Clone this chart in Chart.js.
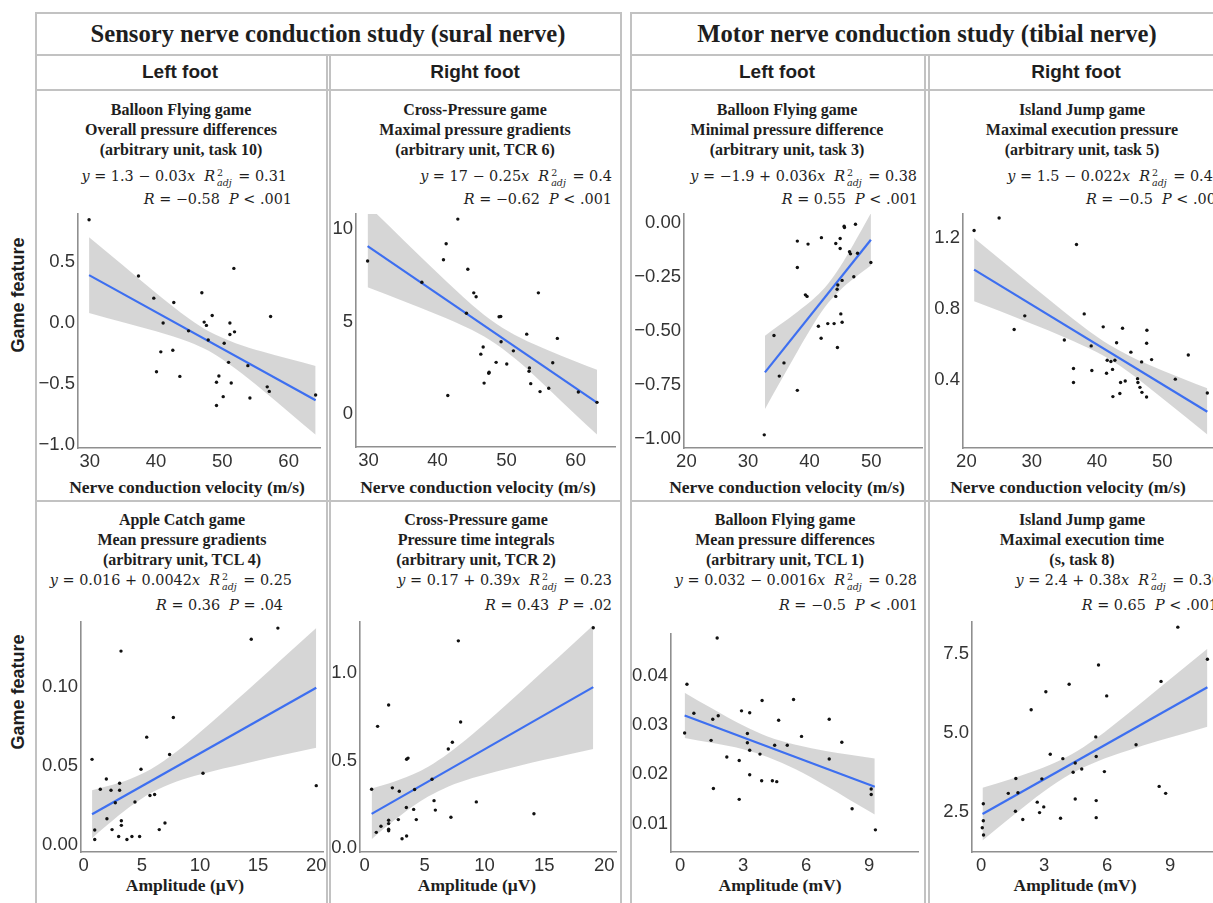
<!DOCTYPE html>
<html lang="en">
<head>
<meta charset="UTF-8">
<title>Game features and nerve conduction</title>
<script src="https://cdn.jsdelivr.net/npm/chart.js@4.4.0/dist/chart.umd.min.js"></script>
<style>
    body { margin: 0; background: #fff; overflow: hidden; }
    #figure { position: relative; width: 1240px; height: 903px; }
    .rule { position: absolute; background: #c2c2c2; }
    .txt { position: absolute; white-space: nowrap; color: #1e1e1e; }
    .sect { font: bold 24.6px "Liberation Serif", serif; transform: translate(-50%, -50%); }
    .foot { font: bold 19px "Liberation Sans Narrow", "Liberation Sans", sans-serif; transform: translate(-50%, -50%); }
    .side { font: bold 18px "Liberation Sans Narrow", "Liberation Sans", sans-serif; transform: translate(-50%, -50%) rotate(-90deg); }
    .ttl { font: bold 16px "Liberation Serif", serif; transform: translate(-50%, -50%); }
    .eq { font: 14.4px "DejaVu Serif", serif; transform: translate(-100%, -50%); }
    .axt { font: bold 17.5px "Liberation Serif", serif; transform: translate(-50%, -50%); }
    .adj { display: inline-flex; flex-direction: column; vertical-align: middle; font-size: 9.5px; line-height: 9.5px; margin: 0 2px; }
    canvas { position: absolute; }
</style>
</head>
<body>
<div id="figure"></div>

<script>
    // ---- sural nerve, left foot: velocity vs Balloon Flying overall pressure differences
    const p1X = [29.9, 37.35, 39.66, 42.68, 41.07, 40.72, 42.53, 40.07, 43.59, 44.9, 46.91, 47.26, 47.6, 48.47, 47.87, 51.74, 51.14, 51.84, 51.14, 50.28, 50.94, 49.48, 49.12, 51.34, 50.13, 49.12, 53.85, 54.16, 57.28, 56.77, 57.08, 64.07];
    const p1Y = [0.847, 0.386, 0.204, 0.169, 0.0, -0.236, -0.223, -0.399, -0.437, -0.064, 0.249, 0.008, -0.019, 0.062, -0.139, 0.448, 0.0, -0.072, -0.094, -0.166, -0.322, -0.434, -0.485, -0.491, -0.603, -0.676, -0.349, -0.614, 0.054, -0.523, -0.56, -0.59];
    const p1Fit = [1.29, -0.030];
    const p1BandX = [29.9, 35, 40, 45, 48, 52, 56, 60, 64.07];
    const p1BandLo = [0.083, 0.007, -0.067, -0.155, -0.23, -0.375, -0.547, -0.728, -0.915];
    const p1BandHi = [0.703, 0.473, 0.247, 0.035, -0.07, -0.165, -0.233, -0.292, -0.351];
    const p1XTicks = [30, 40, 50, 60];
    const p1YTicks = [-1, -0.5, 0, 0.5];
    const p1YLabels = ['−1.0', '−0.5', '0.0', '0.5'];

    // ---- sural nerve, right foot: velocity vs Cross-Pressure maximal gradients
    const p2X = [29.86, 42.93, 41.24, 40.85, 37.72, 44.38, 45.24, 45.58, 44.18, 49.15, 48.91, 54.6, 49.2, 46.6, 46.26, 50.98, 52.91, 57.35, 48.48, 50.02, 47.41, 47.46, 53.3, 53.25, 56.68, 46.74, 53.49, 54.84, 56.1, 60.39, 41.48, 63.09];
    const p2Y = [8.27, 10.53, 9.2, 8.34, 7.12, 7.82, 6.55, 6.34, 5.45, 5.27, 5.26, 6.55, 3.91, 3.63, 3.24, 3.42, 4.32, 4.09, 2.8, 2.71, 2.21, 2.27, 2.5, 2.32, 2.78, 1.68, 1.65, 1.22, 1.4, 1.2, 1.01, 0.64];
    const p2Fit = [16.66, -0.2542];
    const p2BandX = [29.86, 35, 40, 45, 48.5, 52, 56, 60, 63.09];
    const p2BandLo = [6.85, 6.11, 5.37, 4.54, 3.78, 2.76, 1.39, -0.03, -1.1];
    const p2BandHi = [11.29, 9.42, 7.62, 5.9, 4.88, 4.12, 3.45, 2.85, 2.4];
    const p2XTicks = [30, 40, 50, 60];
    const p2YTicks = [0, 5, 10];
    const p2YLabels = ['0', '5', '10'];

    // ---- tibial nerve, left foot: velocity vs Balloon Flying minimal difference
    const p3X = [32.64, 34.22, 35.84, 35.08, 38.01, 38.01, 38.01, 39.75, 39.32, 39.59, 41.92, 41.43, 41.87, 42.95, 43.98, 44.25, 44.96, 44.96, 45.61, 45.66, 47.45, 46.48, 46.64, 47.78, 49.95, 47.18, 45.28, 44.58, 44.47, 44.25, 45.07, 45.28, 44.52];
    const p3Y = [-0.98, -0.52, -0.647, -0.708, -0.774, -0.083, -0.205, -0.097, -0.332, -0.339, -0.067, -0.477, -0.533, -0.465, -0.465, -0.094, -0.071, -0.117, -0.014, -0.02, -0.005, -0.132, -0.142, -0.139, -0.182, -0.248, -0.265, -0.286, -0.306, -0.339, -0.42, -0.459, -0.576];
    const p3Fit = [-1.86, 0.0357];
    const p3BandX = [32.75, 35, 38, 41, 43, 45, 47, 49.95];
    const p3BandLo = [-0.861, -0.746, -0.595, -0.451, -0.37, -0.309, -0.26, -0.196];
    const p3BandHi = [-0.521, -0.474, -0.411, -0.341, -0.28, -0.199, -0.104, 0.046];
    const p3XTicks = [20, 30, 40, 50];
    const p3YTicks = [-1, -0.75, -0.5, -0.25, 0];
    const p3YLabels = ['−1.00', '−0.75', '−0.50', '−0.25', '0.00'];

    // ---- tibial nerve, right foot: velocity vs Island Jump maximal execution pressure
    const p4X = [21.18, 25.01, 36.86, 27.31, 28.94, 38.04, 35.0, 39.11, 40.95, 43.91, 47.64, 43.0, 47.6, 45.19, 41.56, 42.13, 42.74, 42.38, 46.83, 48.36, 36.4, 39.21, 41.46, 36.4, 43.61, 44.32, 46.21, 46.26, 46.57, 46.88, 47.59, 43.5, 42.43, 51.99, 53.98, 56.89];
    const p4Y = [1.242, 1.312, 1.163, 0.685, 0.762, 0.773, 0.626, 0.593, 0.7, 0.692, 0.681, 0.611, 0.608, 0.558, 0.512, 0.505, 0.512, 0.461, 0.503, 0.516, 0.466, 0.455, 0.439, 0.387, 0.387, 0.396, 0.409, 0.387, 0.36, 0.332, 0.306, 0.325, 0.308, 0.406, 0.542, 0.328];
    const p4Fit = [1.496, -0.02238];
    const p4BandX = [21.18, 25, 30, 35, 40, 42, 45, 50, 56.89];
    const p4BandLo = [0.844, 0.79, 0.717, 0.642, 0.558, 0.516, 0.442, 0.299, 0.095];
    const p4BandHi = [1.2, 1.084, 0.933, 0.784, 0.644, 0.596, 0.536, 0.455, 0.355];
    const p4XTicks = [20, 30, 40, 50];
    const p4YTicks = [0.4, 0.8, 1.2];
    const p4YLabels = ['0.4', '0.8', '1.2'];

    // ---- sural nerve, left foot: amplitude vs Apple Catch mean gradients
    const p5X = [0.72, 0.95, 0.95, 1.43, 1.95, 2.0, 2.35, 2.44, 2.72, 3.09, 3.09, 3.21, 3.24, 3.24, 3.01, 3.72, 4.15, 4.41, 4.81, 4.93, 5.42, 5.7, 6.1, 6.5, 6.99, 7.39, 7.71, 10.26, 14.41, 16.7, 20.0];
    const p5Y = [0.0542, 0.0094, 0.0033, 0.0352, 0.0417, 0.0165, 0.0346, 0.0096, 0.0267, 0.039, 0.0346, 0.1229, 0.0152, 0.0123, 0.0052, 0.0033, 0.0052, 0.0271, 0.0052, 0.0479, 0.0683, 0.0313, 0.0319, 0.0096, 0.0138, 0.0573, 0.0808, 0.0454, 0.1304, 0.1375, 0.0375];
    const p5Fit = [0.0164, 0.00416];
    const p5BandX = [0.72, 2, 4, 5.77, 8, 10, 12, 14, 16, 18, 20];
    const p5BandLo = [0.0042, 0.0123, 0.0242, 0.0329, 0.0402, 0.0446, 0.0484, 0.0518, 0.0552, 0.0584, 0.0616];
    const p5BandHi = [0.0346, 0.0371, 0.0418, 0.0479, 0.0592, 0.0714, 0.0843, 0.0974, 0.1108, 0.1242, 0.1376];
    const p5XTicks = [0, 5, 10, 15, 20];
    const p5YTicks = [0, 0.05, 0.1];
    const p5YLabels = ['0.00', '0.05', '0.10'];

    // ---- sural nerve, right foot: amplitude vs Cross-Pressure time integrals
    const p6X = [0.58, 1.08, 0.97, 1.36, 2.0, 2.0, 2.0, 2.0, 2.0, 2.31, 2.89, 2.81, 3.12, 3.5, 3.48, 3.5, 3.62, 4.17, 4.09, 4.31, 5.62, 5.79, 5.9, 6.98, 7.32, 7.2, 7.82, 8.01, 9.32, 14.13, 19.08];
    const p6Y = [0.336, 0.695, 0.09, 0.125, 0.817, 0.159, 0.14, 0.108, 0.099, 0.344, 0.325, 0.163, 0.054, 0.069, 0.232, 0.507, 0.514, 0.335, 0.221, 0.163, 0.393, 0.271, 0.217, 0.566, 0.604, 0.176, 1.183, 0.72, 0.264, 0.196, 1.258];
    const p6Fit = [0.173, 0.0391];
    const p6BandX = [0.58, 2, 4, 5.3, 7, 9, 11, 13, 15, 17, 19.08];
    const p6BandLo = [0.051, 0.133, 0.238, 0.295, 0.352, 0.4, 0.438, 0.472, 0.504, 0.535, 0.566];
    const p6BandHi = [0.341, 0.369, 0.42, 0.465, 0.542, 0.65, 0.768, 0.891, 1.016, 1.141, 1.272];
    const p6XTicks = [0, 5, 10, 15, 20];
    const p6YTicks = [0, 0.5, 1];
    const p6YLabels = ['0.0', '0.5', '1.0'];

    // ---- tibial nerve, left foot: amplitude vs Balloon Flying mean differences
    const p7X = [0.21, 0.32, 0.65, 1.47, 1.55, 1.81, 1.76, 1.58, 2.22, 2.81, 2.81, 2.92, 3.2, 3.2, 3.31, 3.31, 3.31, 3.8, 3.9, 3.88, 4.39, 4.6, 4.5, 4.69, 5.1, 5.4, 5.78, 7.1, 7.1, 7.7, 8.19, 9.1, 9.1, 9.3];
    const p7Y = [0.0284, 0.0383, 0.0324, 0.0269, 0.0312, 0.0319, 0.0477, 0.0171, 0.0235, 0.0228, 0.0149, 0.0329, 0.0283, 0.0264, 0.0325, 0.0249, 0.0199, 0.0241, 0.035, 0.0187, 0.0187, 0.0185, 0.0259, 0.031, 0.0259, 0.0352, 0.0277, 0.0312, 0.0231, 0.0265, 0.013, 0.017, 0.0159, 0.0087];
    const p7Fit = [0.0323, -0.0016];
    const p7BandX = [0.21, 1.5, 3, 4.16, 5.5, 7, 8, 9.27];
    const p7BandLo = [0.0274, 0.0264, 0.0251, 0.0235, 0.021, 0.0175, 0.015, 0.0118];
    const p7BandHi = [0.0366, 0.0334, 0.0299, 0.0277, 0.026, 0.0247, 0.024, 0.0232];
    const p7XTicks = [0, 3, 6, 9];
    const p7YTicks = [0.01, 0.02, 0.03, 0.04];
    const p7YLabels = ['0.01', '0.02', '0.03', '0.04'];

    // ---- tibial nerve, right foot: amplitude vs Island Jump maximal execution time
    const p8X = [0.1, 0.1, 0.05, 0.11, 1.29, 1.65, 1.63, 1.75, 1.98, 2.38, 2.67, 2.78, 2.89, 2.98, 3.08, 3.29, 3.78, 3.89, 4.19, 4.38, 4.48, 4.48, 4.79, 5.46, 5.48, 5.48, 5.48, 5.59, 5.87, 5.98, 7.38, 8.48, 8.79, 8.57, 9.37, 10.78];
    const p8Y = [2.76, 2.22, 2.0, 1.77, 3.09, 3.56, 2.52, 3.11, 2.26, 5.74, 2.81, 2.48, 3.55, 2.66, 6.31, 4.33, 2.3, 4.19, 6.55, 3.76, 4.05, 2.91, 3.86, 4.88, 4.26, 2.86, 2.32, 7.16, 3.78, 6.18, 4.63, 3.31, 3.09, 6.64, 8.36, 7.34];
    const p8Fit = [2.41, 0.375];
    const p8BandX = [0.06, 1.5, 3, 4.27, 5.5, 7, 8.5, 10.78];
    const p8BandLo = [1.595, 2.376, 3.154, 3.71, 4.094, 4.448, 4.762, 5.205];
    const p8BandHi = [3.265, 3.564, 3.916, 4.31, 4.846, 5.622, 6.438, 7.675];
    const p8XTicks = [0, 3, 6, 9];
    const p8YTicks = [2.5, 5, 7.5];
    const p8YLabels = ['2.5', '5.0', '7.5'];

    // panel captions: game, feature, unit line, equation, adjusted R², R, P
    const games = ['Balloon Flying game', 'Cross-Pressure game', 'Balloon Flying game', 'Island Jump game',
                   'Apple Catch game', 'Cross-Pressure game', 'Balloon Flying game', 'Island Jump game'];
    const features = ['Overall pressure differences', 'Maximal pressure gradients', 'Minimal pressure difference', 'Maximal execution pressure',
                      'Mean pressure gradients', 'Pressure time integrals', 'Mean pressure differences', 'Maximal execution time'];
    const units = ['(arbitrary unit, task 10)', '(arbitrary unit, TCR 6)', '(arbitrary unit, task 3)', '(arbitrary unit, task 5)',
                   '(arbitrary unit, TCL 4)', '(arbitrary unit, TCR 2)', '(arbitrary unit, TCL 1)', '(s, task 8)'];
    const equations = ['1.3 − 0.03', '17 − 0.25', '−1.9 + 0.036', '1.5 − 0.022', '0.016 + 0.0042', '0.17 + 0.39', '0.032 − 0.0016', '2.4 + 0.38'];
    const r2adj = ['0.31', '0.4', '0.38', '0.46', '0.25', '0.23', '0.28', '0.36'];
    const rValues = ['−0.58', '−0.62', '0.55', '−0.5', '0.36', '0.43', '−0.5', '0.65'];
    const pValues = ['< .001', '< .001', '< .001', '< .001', '= .04', '= .02', '< .001', '< .001'];
    const xTitles = ['Nerve conduction velocity (m/s)', 'Amplitude (μV)', 'Amplitude (mV)'];

    const fig = document.getElementById('figure');

    function addText(cls, html, x, y) {
        const d = document.createElement('div');
        d.className = 'txt ' + cls;
        d.innerHTML = html;
        d.style.left = x + 'px';
        d.style.top = y + 'px';
        fig.appendChild(d);
    }

    function addRule(x, y, w, h) {
        const d = document.createElement('div');
        d.className = 'rule';
        d.style.cssText = `left:${x}px;top:${y}px;width:${w}px;height:${h}px`;
        fig.appendChild(d);
    }

    // table frame
    [12, 54, 89, 500].forEach(y => { addRule(35, y, 586, 1.5); addRule(630, y, 600, 1.5); });
    addRule(35, 12, 1.5, 891);
    addRule(620, 12, 1.5, 891);
    addRule(630, 12, 1.5, 891);
    [326, 329, 924, 928].forEach(x => addRule(x, 54, 1.5, 849));

    addText('sect', 'Sensory nerve conduction study (sural nerve)', 328, 34);
    addText('sect', 'Motor nerve conduction study (tibial nerve)', 927, 34);
    [180, 475, 777, 1076].forEach((x, i) => addText('foot', i % 2 ? 'Right foot' : 'Left foot', x, 72));
    addText('side', 'Game feature', 18, 295);
    addText('side', 'Game feature', 18, 692);

    const panels = [
        { x: p1X, y: p1Y, fit: p1Fit, bx: p1BandX, lo: p1BandLo, hi: p1BandHi, xt: p1XTicks, yt: p1YTicks, yl: p1YLabels,
          box: [78, 210, 320, 448], xr: [28.23, 64.73], yr: [-1.024, 0.893], cx: 181, eqR: 287, stR: 292, axC: 187, xTitle: 0 },
        { x: p2X, y: p2Y, fit: p2Fit, bx: p2BandX, lo: p2BandLo, hi: p2BandHi, xt: p2XTicks, yt: p2YTicks, yl: p2YLabels,
          box: [356, 210, 615, 447], xr: [28.18, 65.7], yr: [-1.77, 10.8], cx: 475, eqR: 612, stR: 612, axC: 478, xTitle: 0 },
        { x: p3X, y: p3Y, fit: p3Fit, bx: p3BandX, lo: p3BandLo, hi: p3BandHi, xt: p3XTicks, yt: p3YTicks, yl: p3YLabels,
          box: [684, 210, 922, 448], xr: [19.61, 58.25], yr: [-1.041, 0.042], cx: 787, eqR: 917, stR: 918, axC: 787, xTitle: 0 },
        { x: p4X, y: p4Y, fit: p4Fit, bx: p4BandX, lo: p4BandLo, hi: p4BandHi, xt: p4XTicks, yt: p4YTicks, yl: p4YLabels,
          box: [963, 210, 1219, 448], xr: [19.48, 58.68], yr: [0.019, 1.334], cx: 1082, eqR: 1222, stR: 1225, axC: 1068, xTitle: 0 },
        { x: p5X, y: p5Y, fit: p5Fit, bx: p5BandX, lo: p5BandLo, hi: p5BandHi, xt: p5XTicks, yt: p5YTicks, yl: p5YLabels,
          box: [81, 618, 323, 852], xr: [-0.23, 20.58], yr: [-0.0046, 0.1413], cx: 182, eqR: 292, stR: 283, axC: 185, xTitle: 1 },
        { x: p6X, y: p6Y, fit: p6Fit, bx: p6BandX, lo: p6BandLo, hi: p6BandHi, xt: p6XTicks, yt: p6YTicks, yl: p6YLabels,
          box: [360, 618, 616, 852], xr: [-0.39, 20.98], yr: [-0.022, 1.29], cx: 476, eqR: 612, stR: 612, axC: 477, xTitle: 1 },
        { x: p7X, y: p7Y, fit: p7Fit, bx: p7BandX, lo: p7BandLo, hi: p7BandHi, xt: p7XTicks, yt: p7YTicks, yl: p7YLabels,
          box: [671, 630, 918, 852], xr: [-0.44, 11.33], yr: [0.0042, 0.0485], cx: 785, eqR: 917, stR: 918, axC: 780, xTitle: 2 },
        { x: p8X, y: p8Y, fit: p8Fit, bx: p8BandX, lo: p8BandLo, hi: p8BandHi, xt: p8XTicks, yt: p8YTicks, yl: p8YLabels,
          box: [972, 618, 1220, 852], xr: [-0.44, 11.38], yr: [1.23, 8.52], cx: 1082, eqR: 1221, stR: 1218, axC: 1075, xTitle: 2 }
    ];

    const pts = (xs, ys) => xs.map((x, i) => ({ x, y: ys[i] }));
    const tickFont = { family: '"Liberation Sans", Arial, sans-serif', size: 18.5 };

    function drawPanel(p, i) {
        const top = i < 4;
        const ty = top ? [110, 130, 150, 177, 199] : [520, 540, 560, 581, 605];
        addText('ttl', games[i], p.cx, ty[0]);
        addText('ttl', features[i], p.cx, ty[1]);
        addText('ttl', units[i], p.cx, ty[2]);
        addText('eq', `<i>y</i> = ${equations[i]}<i>x</i>&nbsp;&nbsp;<i>R</i><span class="adj"><span>2</span><i>adj</i></span> = ${r2adj[i]}`, p.eqR, ty[3]);
        addText('eq', `<i>R</i> = ${rValues[i]}&nbsp;&nbsp;<i>P</i> ${pValues[i]}`, p.stR, ty[4]);
        addText('axt', xTitles[p.xTitle], p.axC, top ? 487 : 885);

        const yW = 60, xH = 30, padT = 10, padR = 22;
        const w = yW + (p.box[2] - p.box[0]) + padR;
        const h = padT + (p.box[3] - p.box[1]) + xH;
        const cv = document.createElement('canvas');
        cv.width = w;
        cv.height = h;
        cv.style.cssText = `left:${p.box[0] - yW}px;top:${p.box[1] - padT}px;width:${w}px;height:${h}px`;
        fig.appendChild(cv);

        const ends = [p.bx[0], p.bx[p.bx.length - 1]];
        new Chart(cv, {
            type: 'line',
            data: {
                datasets: [
                    { data: pts(p.x, p.y), showLine: false, pointRadius: 1.7, pointBorderWidth: 0, pointBackgroundColor: '#111' },
                    { data: ends.map(x => ({ x, y: p.fit[0] + p.fit[1] * x })), borderColor: '#3d6ff0', borderWidth: 2.2, pointRadius: 0 },
                    { data: pts(p.bx, p.lo), borderWidth: 0, pointRadius: 0, fill: false, cubicInterpolationMode: 'monotone' },
                    { data: pts(p.bx, p.hi), borderWidth: 0, pointRadius: 0, fill: '-1', cubicInterpolationMode: 'monotone',
                      backgroundColor: 'rgba(153,153,153,0.4)' }
                ]
            },
            options: {
                responsive: false,
                animation: false,
                layout: { padding: { top: padT, right: padR, left: 0, bottom: 0 } },
                plugins: { legend: { display: false }, tooltip: { enabled: false } },
                scales: {
                    x: {
                        type: 'linear', min: p.xr[0], max: p.xr[1],
                        afterFit: s => { s.height = xH; },
                        afterBuildTicks: s => { s.ticks = p.xt.map(v => ({ value: v })); },
                        ticks: { font: tickFont, color: '#333', padding: 3, maxRotation: 0, autoSkip: false },
                        grid: { display: false, drawTicks: false },
                        border: { color: '#8f8f8f', width: 1.6 }
                    },
                    y: {
                        type: 'linear', min: p.yr[0], max: p.yr[1],
                        afterFit: s => { s.width = yW; },
                        afterBuildTicks: s => { s.ticks = p.yt.map(v => ({ value: v })); },
                        ticks: { font: tickFont, color: '#333', padding: 3, autoSkip: false,
                                 callback: v => p.yl[p.yt.indexOf(v)] },
                        grid: { display: false, drawTicks: false },
                        border: { color: '#8f8f8f', width: 1.6 }
                    }
                }
            }
        });
    }

    panels.forEach(drawPanel);
</script>
</body>
</html>
